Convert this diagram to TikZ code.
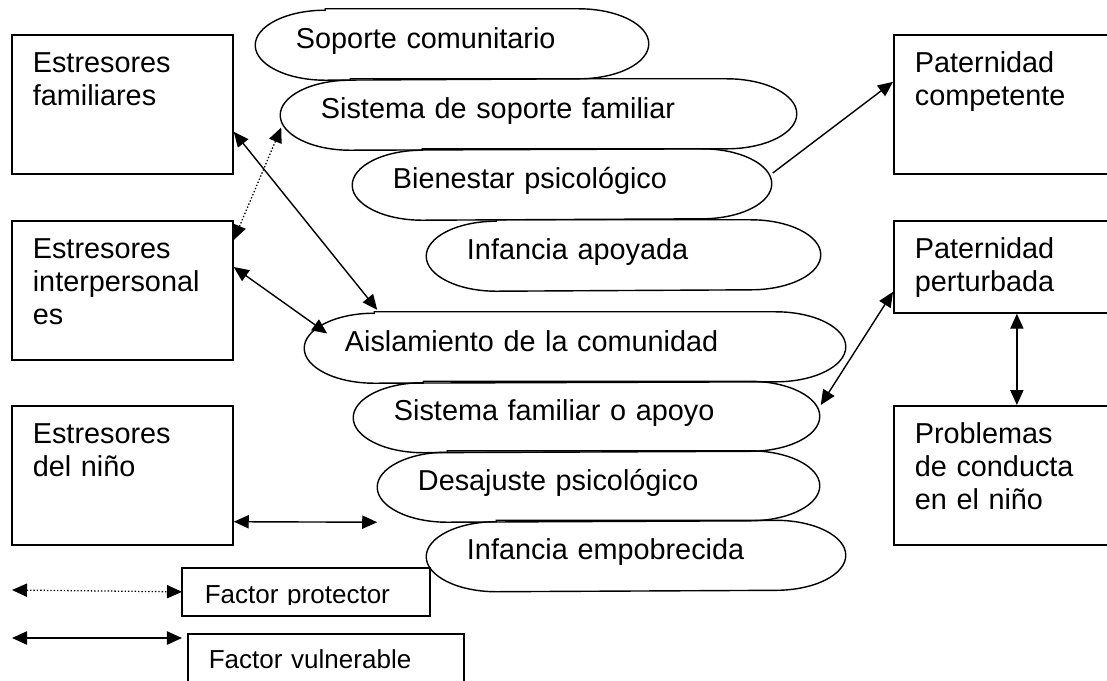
\documentclass[tikz,border=0pt]{standalone}
\usepackage{fontspec}
\setmainfont{Liberation Sans}
\usetikzlibrary{arrows.meta, calc}
\tikzset{>={Triangle[length=3.75mm, width=3.3mm]}}

\begin{document}
\begin{tikzpicture}[x=0.025cm, y=-0.025cm, line width=1pt, font=\fontsize{20.5pt}{23.5pt}\selectfont,
	capsule/.style={text width=#1, inner xsep=1cm, minimum height=1.75cm, align=left, text height=0.75em, text depth=0.25em},
	box/.style={draw, line width=1.2pt, anchor=north west, text width=#1, inner xsep=0.525cm, inner ysep=0pt, align=left, text height=0.95cm},
	small/.style={font=\fontsize{18.5pt}{22pt}\selectfont, text height=0.875cm},
	dots/.style={<->, line width=0.9pt, dash pattern=on 1pt off 1.4pt}]
	\useasboundingbox (0,0) rectangle (1107,680);
	\clip (0,0) rectangle (1107,680);

	\node[box=4.475cm, text depth=2.525cm] (fam) at (11,34) {Estresores\\familiares};
	\node[box=4.475cm, text depth=2.525cm] (inter) at (11,220) {Estresores\\interpersonal\\es};
	\node[box=4.475cm, text depth=2.525cm] (nino) at (11,405) {Estresores\\del niño};
	\node[box=5.1cm, text depth=2.525cm] (comp) at (893,34) {Paternidad\\competente};
	\node[box=5.1cm, text depth=1.35cm] (pert) at (893,220) {Paternidad\\perturbada};
	\node[box=5.1cm, text depth=2.525cm] (prob) at (893,405) {Problemas\\de conducta\\en el niño};

	\node[capsule=7.8cm] (sc) at (452,44.5) {Soporte comunitario};
	\node[capsule=10.875cm] (ssf) at (538.5,114.5) {Sistema de soporte familiar};
	\node[capsule=8.45cm] (bp) at (562,184.5) {Bienestar psicológico};
	\node[capsule=7.825cm] (ia) at (623.5,255.5) {Infancia apoyada};
	\node[capsule=11.5cm] (ac) at (575,347.5) {Aislamiento de la comunidad};
	\node[capsule=9.625cm] (sfa) at (586.5,417) {Sistema familiar o apoyo};
	\node[capsule=9.025cm] (dp) at (598.5,486.5) {Desajuste psicológico};
	\node[capsule=8.45cm] (ie) at (636,556) {Infancia empobrecida};
	% rounded outlines
	\foreach \n in {sc,ssf,bp,ia,ac,sfa,dp,ie}
		\draw ($(\n.north west)+(70,0)$) -- ($(\n.north east)+(-70,0)$)
			arc[start angle=90, end angle=-90, x radius=1.75cm, y radius=0.875cm]
			-- ($(\n.south west)+(70,0)$)
			arc[start angle=270, end angle=90, x radius=1.75cm, y radius=0.875cm] -- cycle;

	\draw [<->]($(fam.south east)+(0,-43)$) -- ($(ac.north west)+(73,-2)$);
	\draw [dots]($(inter.north east)+(0,20)$) -- ($(ssf.west)+(1,13)$);
	\draw [<->]($(inter.north east)+(0,47)$) -- ($(ac.west)+(23,-14)$);
	\draw [<->]($(nino.south east)+(0,-24)$) -- (dp.south west);
	\draw [->]($(bp.east)+(1,-11.5)$) -- ($(comp.west)+(0,-22.5)$);
	\draw [<->]($(sfa.east)+(1,-12)$) -- ($(pert.west)+(0,25)$);
	\draw [<->](pert.south) -- (prob.north);

	% legend
	\coordinate (lp) at (12,590);
	\coordinate (lv) at (12,638);
	\begin{scope}
		\clip (182,568) rectangle (428,604);
		\node[box=5.05cm, small, draw=none, inner xsep=0.55cm, text depth=0.275cm] (prot) at (182,568) {Factor protector};
	\end{scope}
	\draw [line width=1.2pt](prot.north west) rectangle (prot.south east);
	\node[box=5.85cm, small, text depth=0.625cm] (vuln) at (187,633) {Factor vulnerable};
	\draw [dots](lp) -- (prot.west);
	\draw [<->](lv) -- ($(vuln.north west)+(-5,5)$);
\end{tikzpicture}
\end{document}
